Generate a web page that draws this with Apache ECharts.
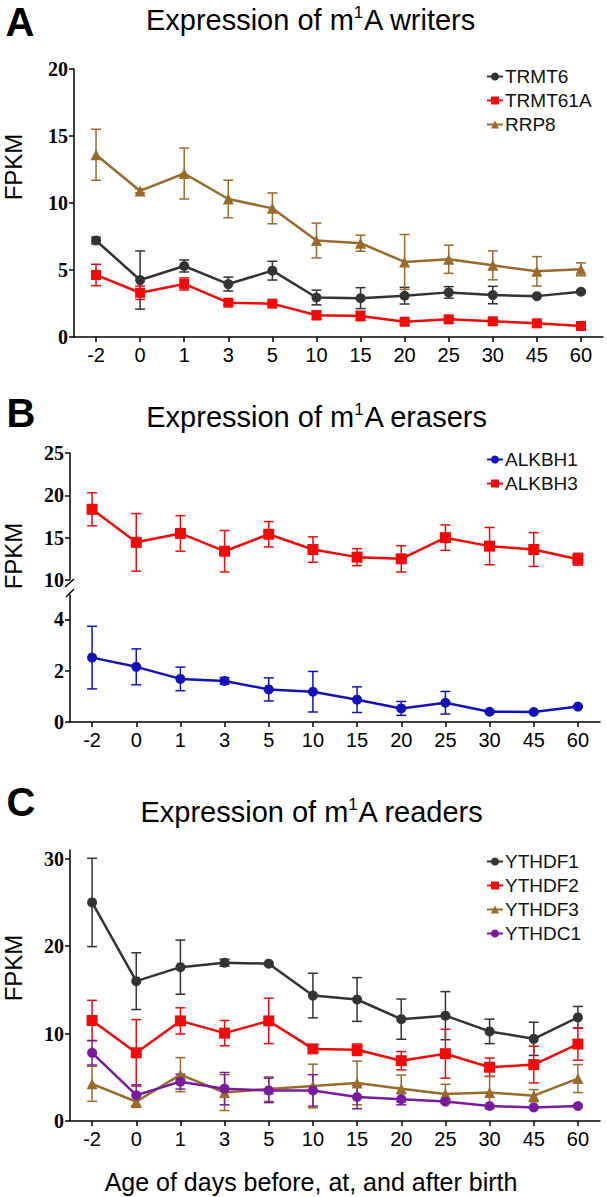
<!DOCTYPE html>
<html>
<head>
<meta charset="utf-8">
<script src="https://cdn.jsdelivr.net/npm/echarts@6/dist/echarts.min.js"></script>
<style>
  html, body { margin: 0; padding: 0; background: #fff; }
  #main { width: 607px; height: 1197px; }
</style>
</head>
<body>
<div id="main"></div>
<script>
// 横轴：出生前/出生/出生后天数
var days = ['-2', '0', '1', '3', '5', '10', '15', '20', '25', '30', '45', '60'];

// 纵轴刻度
var ticksA = [0, 5, 10, 15, 20];
var ticksBTop = [10, 15, 20, 25];
var ticksBBottom = [0, 2, 4];
var ticksC = [0, 10, 20, 30];

// A 写入蛋白
var trmt6 = [7.2, 4.25, 5.3, 3.95, 4.95, 2.95, 2.9, 3.08, 3.33, 3.13, 3.05, 3.38];
var trmt6Err = [0.25, 2.17, 0.45, 0.52, 0.7, 0.55, 0.78, 0.62, 0.43, 0.65, 0.08, 0.1];
var trmt61a = [4.63, 3.3, 3.96, 2.56, 2.49, 1.62, 1.57, 1.14, 1.32, 1.17, 1.02, 0.82];
var trmt61aErr = [0.8, 0.5, 0.45, 0.15, 0.15, 0.32, 0.35, 0.12, 0.1, 0.1, 0.08, 0.08];
var rrp8 = [13.6, 10.9, 12.2, 10.3, 9.6, 7.2, 7.0, 5.6, 5.8, 5.35, 4.9, 5.05];
var rrp8Err = [1.9, 0.15, 1.9, 1.4, 1.15, 1.3, 0.6, 2.05, 1.05, 1.08, 1.1, 0.48];

// B 擦除蛋白
var alkbh1 = [2.51, 2.15, 1.68, 1.6, 1.27, 1.18, 0.87, 0.53, 0.75, 0.4, 0.39, 0.6];
var alkbh1Err = [1.22, 0.7, 0.46, 0.13, 0.45, 0.79, 0.5, 0.27, 0.44, 0.03, 0.03, 0.03];
var alkbh3 = [18.35, 14.45, 15.5, 13.4, 15.4, 13.6, 12.7, 12.5, 15.0, 14.0, 13.6, 12.45];
var alkbh3Err = [1.95, 3.4, 2.1, 2.45, 1.5, 1.5, 1.0, 1.55, 1.5, 2.2, 2.0, 0.7];

// C 读取蛋白
var ythdf1 = [25.0, 16.0, 17.6, 18.1, 18.0, 14.35, 13.9, 11.65, 12.05, 10.25, 9.4, 11.85];
var ythdf1Err = [5.05, 3.25, 3.1, 0.4, 0.15, 2.55, 2.5, 2.3, 2.75, 1.4, 1.9, 1.25];
var ythdf2 = [11.5, 7.8, 11.45, 10.05, 11.45, 8.25, 8.15, 6.9, 7.7, 6.15, 6.45, 8.8];
var ythdf2Err = [2.3, 3.8, 1.5, 1.45, 2.6, 0.35, 0.65, 1.05, 2.8, 1.05, 2.1, 1.85];
var ythdf3 = [4.25, 2.2, 5.3, 3.25, 3.65, 4.0, 4.35, 3.7, 3.1, 3.25, 2.9, 4.85];
var ythdf3Err = [2.0, 0.65, 1.95, 2.05, 1.4, 2.5, 2.5, 1.55, 1.1, 1.85, 0.7, 1.6];
var ythdc1 = [7.8, 2.95, 4.5, 3.7, 3.5, 3.5, 2.75, 2.5, 2.22, 1.72, 1.55, 1.72];
var ythdc1Err = [1.4, 1.2, 0.85, 1.85, 1.4, 1.8, 1.35, 0.65, 0.15, 0.1, 0.1, 0.1];

var cBlack = '#333333', cRed = '#f20a0a', cBrown = '#996a2a', cBlue = '#1212b8', cPurple = '#7a1a9e';
var sans = '"Liberation Sans", Arial, sans-serif';
var serif = '"Liberation Serif", "Times New Roman", serif';

var myChart = echarts.init(document.getElementById('main'), null, { renderer: 'svg' });

// 折线
function lineSeries(name, data, color, symbol, size, gi) {
  return {
    name: name, type: 'line', xAxisIndex: gi, yAxisIndex: gi,
    data: data, symbol: symbol, symbolSize: size,
    lineStyle: { width: 2.5, color: color },
    itemStyle: { color: color },
    z: 3, animation: false
  };
}
// 误差线
function errSeries(data, err, color, gi) {
  return {
    type: 'custom', xAxisIndex: gi, yAxisIndex: gi, z: 2, silent: true, animation: false,
    encode: { x: 0, y: 1 },
    data: data.map(function (v, i) { return [i, v, err[i]]; }),
    renderItem: function (params, api) {
      var i = api.value(0), m = api.value(1), e = api.value(2);
      var p1 = api.coord([i, m + e]), p2 = api.coord([i, m - e]);
      var st = { stroke: color, lineWidth: 1.5 };
      return {
        type: 'group', children: [
          { type: 'line', shape: { x1: p1[0], y1: p1[1], x2: p2[0], y2: p2[1] }, style: st },
          { type: 'line', shape: { x1: p1[0] - 5, y1: p1[1], x2: p1[0] + 5, y2: p1[1] }, style: st },
          { type: 'line', shape: { x1: p2[0] - 5, y1: p2[1], x2: p2[0] + 5, y2: p2[1] }, style: st }
        ]
      };
    }
  };
}

function xAxis(gi, show) {
  return {
    type: 'category', gridIndex: gi, data: days, boundaryGap: true,
    axisLine: { show: show, lineStyle: { color: '#000', width: 1.5 } },
    axisTick: { show: show, alignWithLabel: true, length: 5, lineStyle: { color: '#000', width: 1.5 } },
    axisLabel: { show: show, color: '#000', fontSize: 20, fontFamily: sans, margin: 8 }
  };
}
function yAxis(gi, min, max, ticks) {
  return {
    type: 'value', gridIndex: gi, min: min, max: max,
    splitLine: { show: false },
    axisLine: { show: true, lineStyle: { color: '#000', width: 1.5 } },
    axisTick: { show: true, length: 5, customValues: ticks, lineStyle: { color: '#000', width: 1.5 } },
    axisLabel: { color: '#000', fontSize: 20, fontWeight: 'bold', fontFamily: serif, margin: 6, customValues: ticks }
  };
}
function legend(names, top) {
  return {
    data: names, orient: 'vertical', left: 486, top: top, padding: 0,
    itemGap: 5, itemWidth: 16, itemHeight: 10,
    textStyle: { color: '#111', fontSize: 19, fontFamily: sans, padding: [0, 0, 0, -3] }
  };
}
function txt(text, x, y, size, bold, rot) {
  return {
    type: 'text', x: x, y: y, rotation: rot || 0,
    style: {
      text: text, fill: '#000', align: 'center', verticalAlign: 'middle',
      font: (bold ? 'bold ' : '') + size + 'px ' + sans
    }
  };
}
// 带上标的标题
function title(word, x, y) {
  return {
    type: 'text', x: x, y: y,
    style: {
      text: '{n|Expression of m}{s|1}{n|A ' + word + '}',
      fill: '#000', align: 'center', verticalAlign: 'middle',
      rich: {
        n: { fontSize: 29, fontFamily: sans, lineHeight: 32 },
        s: { fontSize: 17, fontFamily: sans, lineHeight: 24, verticalAlign: 'top' }
      }
    }
  };
}

var option = {
  backgroundColor: '#fff',
  animation: false,
  grid: [
    { left: 74, top: 69, width: 529, height: 268 },
    { left: 70, top: 453, width: 530, height: 127 },
    { left: 70, top: 595, width: 530, height: 127 },
    { left: 70, top: 850, width: 530, height: 271 }
  ],
  xAxis: [xAxis(0, true), xAxis(1, false), xAxis(2, true), xAxis(3, true)],
  yAxis: [yAxis(0, 0, 20, ticksA), yAxis(1, 10, 25, ticksBTop), yAxis(2, 0, 4.95, ticksBBottom), yAxis(3, 0, 31, ticksC)],
  legend: [
    legend(['TRMT6', 'TRMT61A', 'RRP8'], 67),
    legend(['ALKBH1', 'ALKBH3'], 450),
    legend(['YTHDF1', 'YTHDF2', 'YTHDF3', 'YTHDC1'], 852)
  ],
  graphic: [
    txt('A', 20, 22, 40, true),
    txt('B', 21, 413, 40, true),
    txt('C', 21, 802, 40, true),
    title('writers', 311, 20),
    title('erasers', 317, 417),
    title('readers', 312, 812),
    txt('FPKM', 13, 167, 24, false, Math.PI / 2),
    txt('FPKM', 13, 556, 24, false, Math.PI / 2),
    txt('FPKM', 13, 968, 24, false, Math.PI / 2),
    txt('Age of days before, at, and after birth', 311, 1182, 25),
    // 断轴标记
    { type: 'line', shape: { x1: 65, y1: 587, x2: 74, y2: 579 }, style: { stroke: '#000', lineWidth: 1.5 } },
    { type: 'line', shape: { x1: 66, y1: 597, x2: 74, y2: 589 }, style: { stroke: '#000', lineWidth: 1.5 } }
  ],
  series: [
    errSeries(trmt6, trmt6Err, cBlack, 0),
    errSeries(trmt61a, trmt61aErr, cRed, 0),
    errSeries(rrp8, rrp8Err, cBrown, 0),
    lineSeries('TRMT6', trmt6, cBlack, 'circle', 10, 0),
    lineSeries('TRMT61A', trmt61a, cRed, 'rect', 10, 0),
    lineSeries('RRP8', rrp8, cBrown, 'triangle', 11, 0),

    errSeries(alkbh3, alkbh3Err, cRed, 1),
    lineSeries('ALKBH3', alkbh3, cRed, 'rect', 11, 1),
    errSeries(alkbh1, alkbh1Err, cBlue, 2),
    lineSeries('ALKBH1', alkbh1, cBlue, 'circle', 10, 2),

    errSeries(ythdf1, ythdf1Err, cBlack, 3),
    errSeries(ythdf2, ythdf2Err, cRed, 3),
    errSeries(ythdf3, ythdf3Err, cBrown, 3),
    errSeries(ythdc1, ythdc1Err, cPurple, 3),
    lineSeries('YTHDF1', ythdf1, cBlack, 'circle', 10, 3),
    lineSeries('YTHDF2', ythdf2, cRed, 'rect', 11, 3),
    lineSeries('YTHDF3', ythdf3, cBrown, 'triangle', 11, 3),
    lineSeries('YTHDC1', ythdc1, cPurple, 'circle', 10, 3)
  ]
};

myChart.setOption(option);
window.addEventListener('resize', function () {
  myChart.resize();
});
</script>
</body>
</html>
